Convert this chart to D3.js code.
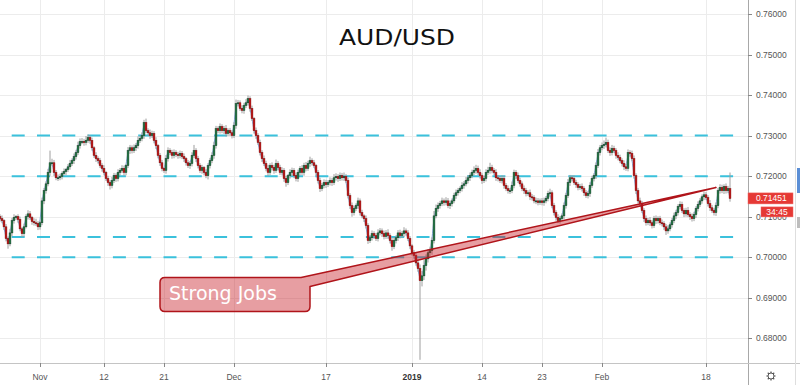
<!DOCTYPE html>
<html>
<head>
<meta charset="utf-8">
<script src="https://cdn.jsdelivr.net/npm/d3@7"></script>
<style>
body{margin:0;background:#fff}
svg{display:block;font-family:"Liberation Sans",Arial,sans-serif}
</style>
</head>
<body>
<svg id="chart"></svg>
<script>
var screen = {width:800,height:385}
var plot = {left:0,top:0,right:748,bottom:363}

// AUD/USD bars, price x 10000; each bar opens at the previous close
var firstOpen = 7100
var closes = [
 7095,7090,7075,7046,7033,7060,7090,7098,7100,7093,
 7070,7058,7075,7100,7107,7098,7088,7085,7083,7075,
 7085,7139,7164,7181,7209,7233,7233,7209,7196,7196,
 7199,7206,7211,7216,7223,7231,7238,7248,7258,7275,
 7285,7285,7283,7288,7295,7288,7270,7251,7243,7238,
 7226,7219,7209,7194,7184,7177,7189,7201,7194,7209,
 7214,7219,7209,7226,7263,7270,7263,7270,7275,7288,
 7293,7300,7332,7312,7307,7300,7305,7288,7275,7251,
 7233,7219,7214,7243,7263,7258,7251,7258,7253,7251,
 7256,7248,7243,7233,7226,7231,7251,7263,7243,7226,
 7214,7221,7209,7201,7226,7238,7251,7275,7317,7312,
 7322,7312,7317,7305,7312,7307,7300,7325,7379,7381,
 7367,7362,7374,7381,7391,7367,7342,7312,7300,7283,
 7258,7243,7231,7219,7209,7226,7221,7214,7231,7221,
 7209,7214,7194,7184,7201,7209,7214,7201,7194,7209,
 7219,7209,7226,7219,7231,7238,7233,7226,7209,7189,
 7169,7177,7184,7179,7184,7189,7184,7196,7199,7194,
 7201,7196,7199,7189,7152,7127,7110,7120,7127,7139,
 7110,7102,7095,7078,7041,7048,7058,7053,7046,7060,
 7065,7058,7051,7060,7053,7041,7026,7041,7048,7060,
 7053,7058,7065,7060,7046,7028,7011,7004,6986,6972,
 6942,6954,6979,6996,7011,7016,7041,7102,7120,7127,
 7132,7139,7135,7139,7127,7132,7139,7152,7159,7164,
 7169,7177,7181,7189,7196,7201,7209,7214,7219,7209,
 7201,7189,7194,7209,7214,7221,7214,7209,7196,7194,
 7189,7194,7177,7169,7164,7164,7177,7209,7201,7189,
 7181,7169,7164,7157,7159,7149,7147,7139,7139,7135,
 7139,7135,7139,7145,7157,7159,7127,7110,7098,7090,
 7095,7102,7127,7152,7184,7196,7194,7184,7179,7172,
 7174,7169,7159,7152,7157,7177,7194,7201,7226,7258,
 7270,7275,7278,7283,7263,7258,7268,7263,7251,7246,
 7238,7231,7223,7219,7258,7256,7243,7201,7164,7139,
 7132,7115,7095,7085,7090,7085,7078,7095,7090,7095,
 7085,7083,7075,7065,7070,7080,7090,7102,7110,7125,
 7130,7115,7107,7115,7105,7100,7095,7105,7120,7130,
 7139,7149,7154,7147,7132,7122,7115,7110,7127,7164,
 7172,7164,7174,7164,7169,7145
]
// wick lengths beyond the body, in pips
var upperWick = [
 6,8,4,7,5,10,7,8,4,6, 7,4,8,6,9,7,4,8,10,6, 4,8,7,6,9,30,10,7,6,8, 7,6,8,4,7,9,6,8,7,10,
 8,9,7,11,8,6,7,4,8,6, 7,6,8,4,7,6,9,7,6,8, 6,8,7,4,9,7,6,8,7,10, 7,8,7,10,6,8,7,6,8,4,
 6,7,4,9,8,6,7,8,6,7, 7,6,8,4,7,6,8,14,6,7, 6,7,4,8,6,7,8,10,7,6, 8,6,7,9,6,7,6,8,10,7,
 6,8,7,9,8,6,7,4,8,6, 7,6,8,7,9,6,8,7,10,6, 7,8,6,7,4,8,7,6,8,7, 6,8,7,9,7,10,6,7,4,6,
 7,6,8,7,6,8,7,9,8,6, 8,7,10,6,7,6,8,7,6,8, 6,7,4,8,6,7,8,6,7,9, 7,6,8,7,9,6,7,8,6,7,
 8,7,9,6,7,6,4,7,6,8, 10,12,14,11,9,10,8,12,10,8, 7,8,6,9,7,8,6,7,8,7, 6,8,7,9,6,8,7,10,9,7,
 8,6,7,8,9,12,7,6,8,7, 6,8,7,6,8,7,10,7,6,8, 7,6,8,7,6,8,7,6,8,7, 6,7,8,6,7,10,6,7,6,8,
 7,6,8,7,9,7,6,8,7,6, 7,8,6,7,6,8,7,6,8,9, 7,8,10,12,7,8,9,7,6,8, 7,6,8,7,8,6,7,8,6,7,
 8,7,6,8,7,9,6,7,8,6, 7,8,6,7,9,6,7,8,7,6, 8,7,6,7,9,6,8,7,6,8, 7,6,8,7,6,9,7,6,8,7,
 8,7,6,8,7,40
]
var lowerWick = [
 7,6,8,7,12,6,8,7,6,8, 6,8,7,4,7,6,8,7,6,8, 7,6,8,7,6,8,7,9,6,8, 6,7,4,8,6,7,6,8,7,6,
 7,6,8,7,6,8,7,6,8,7, 6,8,7,6,8,10,7,6,8,7, 7,6,8,7,6,8,7,6,8,7, 6,7,8,6,7,8,6,7,8,7,
 8,7,6,8,7,6,8,7,6,8, 7,6,8,7,6,8,7,6,8,7, 6,8,7,6,9,7,6,8,7,6, 7,6,8,7,6,8,7,6,8,7,
 6,7,8,6,7,8,6,7,8,6, 7,8,6,7,9,6,7,8,6,7, 6,7,8,10,6,7,8,6,7,8, 7,6,8,7,6,8,7,6,8,7,
 8,6,7,8,6,7,8,6,7,8, 6,7,8,6,7,8,10,7,6,8, 7,6,8,7,8,6,7,8,6,7, 6,8,7,6,8,7,10,6,7,8,
 7,6,8,7,6,8,7,8,7,8, 195,14,10,12,9,8,10,7,6,8, 7,6,8,7,6,8,7,6,8,7, 6,7,8,6,7,8,6,7,8,6,
 7,8,6,7,6,8,7,6,8,7, 6,7,8,6,7,8,6,7,8,6, 7,6,8,7,6,8,7,6,8,7, 6,7,8,6,7,8,6,7,8,6,
 7,6,8,7,6,8,7,6,8,7, 6,7,8,6,7,8,6,7,8,6, 7,6,8,7,6,8,7,6,8,7, 6,7,8,6,7,8,6,7,8,6,
 7,6,8,7,6,8,7,6,8,7, 6,7,8,10,7,6,7,6,8,7, 7,6,8,7,6,8,7,6,8,7, 6,7,8,6,7,8,6,7,8,6,
 7,6,8,7,6,8
]

var yTicks = [0.68,0.69,0.70,0.71,0.72,0.73,0.74,0.75,0.76]
var tickBars = [20,52,82,117,163,206,241,271,301,353]
var tickLabels = ["Nov","12","21","Dec","17","2019","14","23","Feb","18"]
var levels = [0.73,0.72,0.705,0.70]
var lastPrice = 0.71451
var countdown = "34:45"
var callout = {text:"Strong Jobs", bar:80, price:0.6950, tipBar:358, tipPrice:0.7172}

var bars = closes.map(function(c,i)
{
    var o = i==0 ? firstOpen : closes[i-1]
    return {i:i, open:o/1e4, close:c/1e4,
            high:(Math.max(o,c)+upperWick[i])/1e4,
            low:(Math.min(o,c)-lowerWick[i])/1e4}
})

var svg = d3.select("#chart")
            .attr("width",screen.width)
            .attr("height",screen.height)

var xScale = d3.scaleLinear()
               .domain([0,closes.length-1])
               .range([0,730])
var yScale = d3.scaleLinear()
               .domain([0.76,0.68])
               .range([14,338.3])

svg.append("defs").append("clipPath")
   .attr("id","plotClip")
   .append("rect")
   .attr("x",plot.left).attr("y",plot.top)
   .attr("width",plot.right-plot.left).attr("height",plot.bottom-plot.top)

// grid
var grid = svg.append("g").attr("stroke","#ececec").attr("stroke-width",1)
grid.selectAll(".hg").data(yTicks).enter().append("line")
    .attr("x1",0).attr("x2",plot.right)
    .attr("y1",function(d){return Math.round(yScale(d))+0.5})
    .attr("y2",function(d){return Math.round(yScale(d))+0.5})
grid.selectAll(".vg").data(tickBars).enter().append("line")
    .attr("y1",0).attr("y2",plot.bottom)
    .attr("x1",function(d){return Math.round(xScale(d))+0.5})
    .attr("x2",function(d){return Math.round(xScale(d))+0.5})

var chart = svg.append("g").attr("clip-path","url(#plotClip)")

// horizontal levels
chart.selectAll(".level").data(levels).enter().append("line")
     .attr("x1",11.7).attr("x2",735)
     .attr("y1",function(d){return yScale(d)})
     .attr("y2",function(d){return yScale(d)})
     .attr("stroke","#3bc1dc")
     .attr("stroke-width",2)
     .attr("stroke-dasharray","13,12.3")

// thin line under the candles
var lineGenerator = d3.line()
                      .x(function(d){return xScale(d.i)})
                      .y(function(d){return yScale(d.close)})
                      .curve(d3.curveBasis)
chart.append("path").datum(bars)
     .attr("d",lineGenerator)
     .attr("fill","none")
     .attr("stroke","#86ace0")
     .attr("stroke-width",1)

// wicks
chart.selectAll(".wick").data(bars).enter().append("line")
     .attr("x1",function(d){return xScale(d.i)})
     .attr("x2",function(d){return xScale(d.i)})
     .attr("y1",function(d){return yScale(d.high)})
     .attr("y2",function(d){return yScale(d.low)})
     .attr("stroke","#9e9e9e")
     .attr("stroke-width",1)

// bodies
chart.selectAll(".body").data(bars).enter().append("rect")
     .attr("x",function(d){return xScale(d.i)-0.9})
     .attr("width",1.8)
     .attr("y",function(d){return yScale(Math.max(d.open,d.close))})
     .attr("height",function(d){return Math.max(1,Math.abs(yScale(d.open)-yScale(d.close)))})
     .attr("fill",function(d){return d.close>=d.open ? "#23804a" : "#c91515"})
     .attr("stroke",function(d){return d.close>=d.open ? "#103a22" : "#7d0808"})
     .attr("stroke-width",0.5)

// callout
var bx0 = xScale(callout.bar), by0 = yScale(callout.price)
var bx1 = bx0 + 150, by1 = by0 + 34, r = 5
var tx = xScale(callout.tipBar), ty = yScale(callout.tipPrice)
var calloutPath = "M"+(bx0+r)+","+by0+
    "L"+(bx1-9)+","+by0+
    "L"+tx+","+ty+
    "L"+bx1+","+(by0+9)+
    "L"+bx1+","+(by1-r)+
    "Q"+bx1+","+by1+" "+(bx1-r)+","+by1+
    "L"+(bx0+r)+","+by1+
    "Q"+bx0+","+by1+" "+bx0+","+(by1-r)+
    "L"+bx0+","+(by0+r)+
    "Q"+bx0+","+by0+" "+(bx0+r)+","+by0+"Z"
svg.append("path")
   .attr("d",calloutPath)
   .attr("fill","rgba(200,30,40,0.43)")
   .attr("stroke","#b0141a")
   .attr("stroke-width",1.5)
   .attr("stroke-linejoin","round")
svg.append("text")
   .attr("x",bx0+9).attr("y",by0+23)
   .attr("fill","#fff")
   .style("font-family","'DejaVu Sans',Verdana,sans-serif")
   .style("font-size","19px")
   .text(callout.text)

// title
svg.append("text")
   .attr("x",397).attr("y",45)
   .attr("text-anchor","middle")
   .attr("textLength",116)
   .attr("lengthAdjust","spacingAndGlyphs")
   .attr("fill","#111")
   .style("font-family","'DejaVu Sans',Verdana,sans-serif")
   .style("font-size","21px")
   .text("AUD/USD")

// axes frame
svg.append("line").attr("x1",748.5).attr("x2",748.5).attr("y1",0).attr("y2",385)
   .attr("stroke","#a8a8a8")
svg.append("line").attr("x1",0).attr("x2",800).attr("y1",363.5).attr("y2",363.5)
   .attr("stroke","#c4c4c4")
svg.append("line").attr("x1",795.5).attr("x2",795.5).attr("y1",0).attr("y2",385)
   .attr("stroke","#dedede")
svg.append("rect").attr("x",797).attr("y",168).attr("width",3).attr("height",25).attr("fill","#5b8fd6")
svg.append("rect").attr("x",797).attr("y",217).attr("width",3).attr("height",11).attr("fill","#bdbdbd")

// y axis
var yAxis = svg.append("g")
yAxis.selectAll(".yt").data(yTicks).enter().append("line")
     .attr("x1",748).attr("x2",752)
     .attr("y1",function(d){return Math.round(yScale(d))+0.5})
     .attr("y2",function(d){return Math.round(yScale(d))+0.5})
     .attr("stroke","#888")
yAxis.selectAll(".yl").data(yTicks).enter().append("text")
     .attr("x",756)
     .attr("y",function(d){return yScale(d)})
     .attr("dy","0.35em")
     .attr("fill","#555")
     .style("font-size","8.5px")
     .text(d3.format(".5f"))

// x axis
var xAxis = svg.append("g")
xAxis.selectAll(".xt").data(tickBars).enter().append("line")
     .attr("x1",function(d){return Math.round(xScale(d))+0.5})
     .attr("x2",function(d){return Math.round(xScale(d))+0.5})
     .attr("y1",363).attr("y2",367)
     .attr("stroke","#888")
xAxis.selectAll(".xl").data(tickLabels).enter().append("text")
     .attr("x",function(d,i){return xScale(tickBars[i])})
     .attr("y",380)
     .attr("text-anchor","middle")
     .attr("fill",function(d){return d=="2019" ? "#333" : "#555"})
     .style("font-weight",function(d){return d=="2019" ? "bold" : "normal"})
     .style("font-size","8.5px")
     .text(function(d){return d})

// last price + countdown
var py = yScale(lastPrice)
svg.append("rect").attr("x",748).attr("y",py-5.5).attr("width",45).attr("height",11)
   .attr("fill","#e53935").attr("stroke","#f06a66").attr("stroke-width",0.5)
svg.append("text").attr("x",756).attr("y",py).attr("dy","0.35em")
   .attr("fill","#fff").style("font-size","8.5px")
   .text(d3.format(".5f")(lastPrice))
svg.append("rect").attr("x",761).attr("y",py+8.5).attr("width",32).attr("height",10)
   .attr("fill","#e53935").attr("stroke","#f06a66").attr("stroke-width",0.5)
svg.append("text").attr("x",777).attr("y",py+13.5).attr("dy","0.35em")
   .attr("text-anchor","middle")
   .attr("fill","#fff").style("font-size","8.5px")
   .text(countdown)

// settings gear
var gear = svg.append("g").attr("transform","translate(771,376)")
   .attr("stroke","#555").attr("fill","none")
gear.append("circle").attr("r",3).attr("stroke-width",1)
gear.selectAll("line").data(d3.range(8)).enter().append("line")
    .attr("x1",function(d){return 3*Math.cos(d*Math.PI/4)})
    .attr("y1",function(d){return 3*Math.sin(d*Math.PI/4)})
    .attr("x2",function(d){return 4.6*Math.cos(d*Math.PI/4)})
    .attr("y2",function(d){return 4.6*Math.sin(d*Math.PI/4)})
    .attr("stroke-width",1.2)
</script>
</body>
</html>
